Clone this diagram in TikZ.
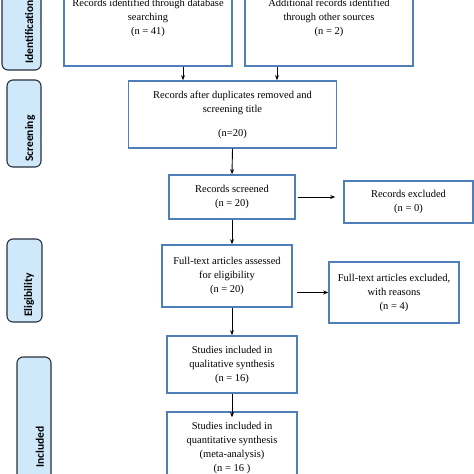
\documentclass[tikz,border=0pt]{standalone}
\usepackage{fontspec}
\setmainfont{Liberation Serif}
\newfontfamily\stagefont{Carlito}
\usepackage{tikz}
\usetikzlibrary{arrows.meta}
\definecolor{boxblue}{HTML}{4F7FB8}
\definecolor{stagefill}{HTML}{CFE8FA}
\definecolor{stageline}{HTML}{26313F}

\begin{document}
\begin{tikzpicture}[x=1pt,y=-1pt,
  >={Stealth[length=5pt,width=4pt]},
  box/.style={draw=boxblue, line width=1.6pt, fill=white, align=center, inner sep=0pt,
    font=\fontsize{10.5}{14}\selectfont},
  stage/.style={draw=stageline, line width=1.1pt, fill=stagefill, rounded corners=6pt, inner sep=0pt},
  stagetext/.style={rotate=90, anchor=west, inner sep=0pt, font=\stagefont\bfseries\fontsize{11.5}{13}\selectfont},
  arr/.style={->, line width=0.9pt}]

  \clip (0,0) rectangle (474,474);
  \fill[white] (0,0) rectangle (474,474);

  % stages on the left
  \node[stage, minimum width=39pt, minimum height=100pt] (idstage) at (21.5,20) {};
  \node[stage, minimum width=34pt, minimum height=87pt] (scstage) at (24,123.5) {};
  \node[stage, minimum width=35pt, minimum height=83pt] (elstage) at (24.5,280.5) {};
  \node[stage, minimum width=34pt, minimum height=143pt] (instage) at (34,428.5) {};
  \node[stagetext] (idtext) at (29,64) {Identification};
  \node[stagetext] (sctext) at (30,162) {Screening};
  \node[stagetext] (eltext) at (29,317) {Eligibility};
  \node[stagetext] (intext) at (40,468) {Included};

  % flow boxes
  \node[box, minimum width=168pt, minimum height=96pt] (db) at (148,18)
    {Records identified through database\\ searching\\ (n = 41)};
  \node[box, minimum width=168pt, minimum height=96pt] (other) at (329,18)
    {Additional records identified\\ through other sources\\ (n = 2)};
  \node[box, minimum width=208pt, minimum height=67pt] (dup) at (232.5,114.5)
    {Records after duplicates removed and\\ screening title\\[10pt] (n=20)};
  \node[box, minimum width=126pt, minimum height=44pt] (scr) at (232,197)
    {Records screened\\ (n = 20)};
  \node[box, minimum width=129pt, minimum height=42pt] (excl) at (408.5,202)
    {Records excluded\\ (n = 0)};
  \node[box, minimum width=130pt, minimum height=62pt] (full) at (227,276)
    {Full-text articles assessed\\ for eligibility\\ (n = 20)};
  \node[box, minimum width=130pt, minimum height=61pt] (fullex) at (394,292.5)
    {Full-text articles excluded,\\ with reasons\\ (n = 4)};
  \node[box, minimum width=130pt, minimum height=57pt] (qual) at (232,364.5)
    {Studies included in\\ qualitative synthesis\\ (n = 16)};
  \node[box, minimum width=130pt, minimum height=72pt] (quant) at (232,448)
    {Studies included in\\ quantitative synthesis\\ (meta-analysis)\\ (n = 16 )};

  % connectors
  \draw[arr] ([xshift=35pt]db.south) -- ([xshift=35pt]db.south |- dup.north);
  \draw[arr] ([xshift=-52pt]other.south) -- ([xshift=-52pt]other.south |- dup.north);
  \draw[arr] (dup.south) -- (scr.north);
  \draw[arr] ([xshift=2pt]scr.east) -- ([xshift=-8pt]excl.west |- scr.east);
  \draw[arr] (scr.south) -- (scr.south |- full.north);
  \draw[arr] ([xshift=4pt]full.east |- fullex.west) -- (fullex.west);
  \draw[arr] (qual.north |- full.south) -- (qual.north);
  \draw[arr] (qual.south) -- ([yshift=-6pt]quant.north);
\end{tikzpicture}
\end{document}
